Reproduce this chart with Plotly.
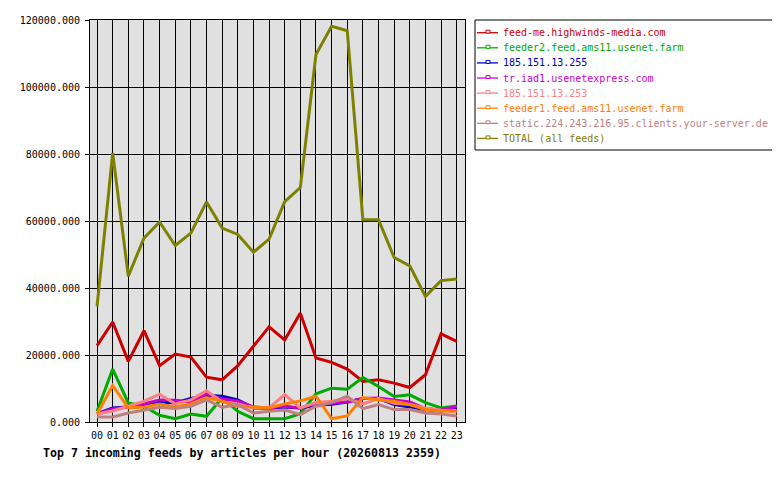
import plotly.graph_objects as go

hours = ["%02d" % h for h in range(24)]

series_names = [
    "feed-me.highwinds-media.com",
    "feeder2.feed.ams11.usenet.farm",
    "185.151.13.255",
    "tr.iad1.usenetexpress.com",
    "185.151.13.253",
    "feeder1.feed.ams11.usenet.farm",
    "static.224.243.216.95.clients.your-server.de",
    "TOTAL (all feeds)",
]
series_colors = ["#cc0000", "#00aa00", "#0000cc", "#cc00cc", "#ff8080", "#ff8000", "#c08080", "#808000"]

feedme = [22800, 29850, 18100, 27250, 16800, 20300, 19400, 13400, 12600, 16800, 22600, 28400,
          24500, 32500, 19100, 17800, 15800, 12100, 12600, 11600, 10300, 14100, 26300, 24100]
feeder2 = [3200, 15800, 5700, 4700, 2000, 1000, 2400, 1700, 7200, 3200, 1000, 1000,
           1000, 2500, 8400, 10100, 9800, 13300, 10600, 7600, 8100, 5800, 4200, 4800]
ip255 = [2500, 4200, 4500, 5000, 6000, 5700, 7000, 8000, 7700, 6600, 4200, 4000,
         4500, 4200, 5000, 5300, 6000, 7000, 7000, 5200, 4500, 3700, 3300, 4500]
iad1 = [2400, 3900, 4500, 5400, 6600, 6500, 6000, 8400, 6900, 6300, 4500, 4200,
        4700, 4200, 5600, 5600, 6000, 7000, 7200, 6500, 6000, 4000, 3500, 4700]
ip253 = [2400, 3300, 4700, 6200, 8300, 5400, 6600, 9300, 6000, 5400, 4200, 4200,
         8200, 4200, 5800, 6200, 7000, 5400, 7000, 5600, 5200, 4200, 3500, 3000]
feeder1 = [2400, 10900, 4200, 4500, 5400, 4500, 5400, 7300, 6200, 4700, 4500, 4200,
           5400, 6300, 7700, 1000, 1800, 7300, 6600, 6200, 5200, 3700, 3200, 3400]
static = [1500, 1500, 2700, 3600, 4400, 4000, 4700, 6600, 4400, 5200, 2700, 3200,
          3600, 2200, 4700, 5800, 7700, 4000, 5200, 3700, 3700, 2700, 2400, 1800]
total = [34500, 80300, 43500, 54900, 59700, 52700, 56400, 65700, 57900, 56000, 50700, 54600,
         65800, 70000, 109700, 118100, 116800, 60400, 60400, 49100, 46600, 37500, 42200, 42700]

y_ticks = [0, 20000, 40000, 60000, 80000, 100000, 120000]
title_text = "Top 7 incoming feeds by articles per hour (20260813 2359)"

all_series = [feedme, feeder2, ip255, iad1, ip253, feeder1, static, total]

FONT = "DejaVu Sans Mono"
OFF = 8  # page body margin of the browser
W, H = 780 - OFF, 480 - OFF
ML, MT = 90 - OFF, 20 - OFF
PLOT_R, PLOT_B = 465 - OFF, 422 - OFF
MR, MB = W - PLOT_R, H - PLOT_B
PW, PH = W - ML - MR, H - MT - MB


def px(xs):
    # screen x -> paper
    return (xs - OFF - ML) / PW


def py(ys):
    # screen y -> paper
    return (H - MB - (ys - OFF)) / PH


fig = go.Figure()
for name, color, vals in zip(series_names, series_colors, all_series):
    fig.add_trace(go.Scatter(
        x=list(range(24)), y=vals, mode="lines", name=name,
        line=dict(color=color, width=3), showlegend=False, hoverinfo="skip"))

# manual legend (box, key lines, labels)
shapes = [dict(type="rect", xref="paper", yref="paper",
               x0=px(475), x1=px(774), y0=py(20), y1=py(150),
               line=dict(color="black", width=1), fillcolor="white", layer="above")]
annotations = []
for i, (name, color) in enumerate(zip(series_names, series_colors)):
    yc = 32.7 + i * 15.1
    shapes.append(dict(type="line", xref="paper", yref="paper",
                       x0=px(477), x1=px(498), y0=py(yc), y1=py(yc),
                       line=dict(color=color, width=1.3)))
    shapes.append(dict(type="rect", xref="paper", yref="paper",
                       x0=px(486), x1=px(490), y0=py(yc + 0.5), y1=py(yc - 2.5),
                       line=dict(color=color, width=1), fillcolor="white"))
    annotations.append(dict(text=name, xref="paper", yref="paper",
                            x=px(501), y=py(yc), xanchor="left", yanchor="middle",
                            showarrow=False, font=dict(family=FONT, size=10, color=color)))

annotations.append(dict(text="<b>%s</b>" % title_text, xref="paper", yref="paper",
                        x=px(41), y=py(452.5), xanchor="left", yanchor="middle", showarrow=False,
                        font=dict(family=FONT, size=11.6, color="black")))

fig.update_layout(
    width=W, height=H,
    margin=dict(l=ML, r=MR, t=MT, b=MB, autoexpand=False),
    paper_bgcolor="white", plot_bgcolor="#e0e0e0",
    font=dict(family=FONT, size=10, color="black"),
    showlegend=False,
    xaxis=dict(range=[-0.45, 23.53], tickmode="array", tickvals=list(range(24)), ticktext=hours,
               showgrid=True, gridcolor="black", gridwidth=1, zeroline=False,
               showline=True, linecolor="black", linewidth=1, mirror=True,
               ticks="outside", ticklen=4, tickcolor="black",
               tickfont=dict(family=FONT, size=10)),
    yaxis=dict(range=[0, 120000], tickmode="array", tickvals=y_ticks,
               ticktext=["%.3f" % v for v in y_ticks],
               showgrid=True, gridcolor="black", gridwidth=1, zeroline=False,
               showline=True, linecolor="black", linewidth=1, mirror=True,
               ticks="outside", ticklen=4, tickcolor="black", ticklabelstandoff=3,
               tickfont=dict(family=FONT, size=10)),
    shapes=shapes,
    annotations=annotations,
)

fig.write_html("out.html")
